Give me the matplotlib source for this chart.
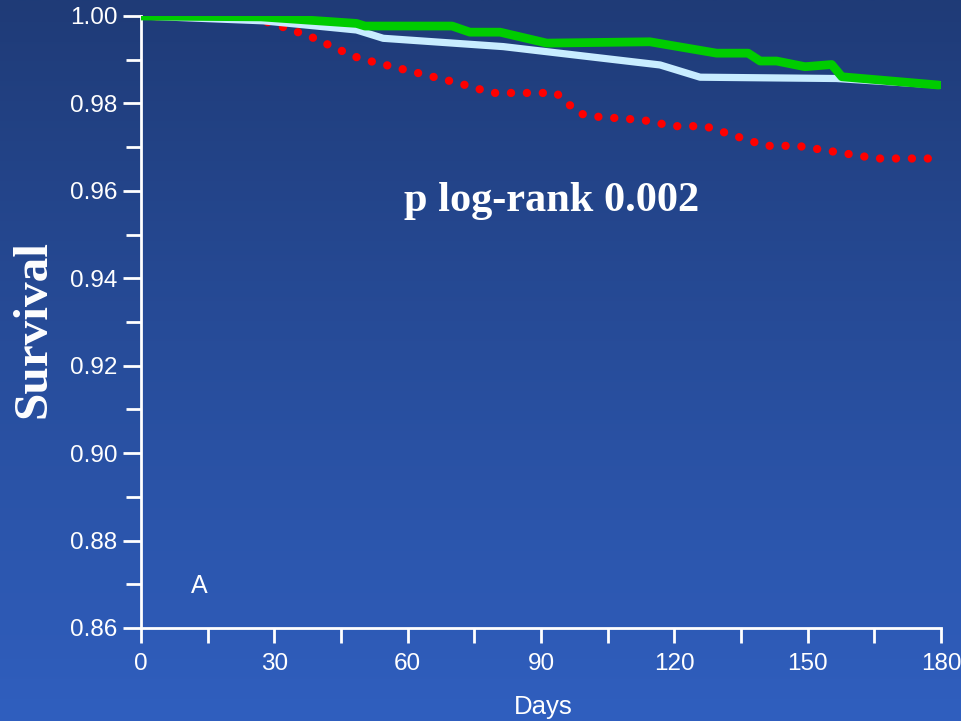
import matplotlib
matplotlib.use("Agg")
import matplotlib.pyplot as plt
from matplotlib.colors import LinearSegmentedColormap
import numpy as np

# survival curves (days, survival)
green_days = [0, 27, 48.5, 50.4, 70, 74, 80.8, 91.3, 114.5, 129.5, 136.6, 139.3,
              143, 149.4, 155.4, 157.7, 179.5]
green_surv = [1.0, 0.9998, 0.9983, 0.9977, 0.9977, 0.9963, 0.9963, 0.9938, 0.9941,
              0.9915, 0.9915, 0.9897, 0.9897, 0.9884, 0.9889, 0.9861, 0.9842]

light_days = [0, 27.5, 48.5, 54.5, 81.5, 116.8, 125.8, 156.5, 179.8]
light_surv = [1.0, 0.9989, 0.9968, 0.9949, 0.9930, 0.9888, 0.9860, 0.9857, 0.9842]

red_days = [0, 26, 31, 37.9, 47.8, 51.1, 72, 79, 93.4, 98.6, 102.2, 112.9, 119.8,
            126.9, 140.6, 147.7, 165.5, 180]
red_surv = [1.0, 0.9994, 0.9978, 0.9954, 0.9908, 0.9898, 0.9845, 0.9824, 0.9824,
            0.9777, 0.9770, 0.9762, 0.9748, 0.9748, 0.9703, 0.9703, 0.9674, 0.9674]

x_major = [0, 30, 60, 90, 120, 150, 180]
y_major = [0.86, 0.88, 0.90, 0.92, 0.94, 0.96, 0.98, 1.00]

fig = plt.figure(figsize=(9.62, 7.21), dpi=100)

# blue gradient backdrop
bg = fig.add_axes([0, 0, 1, 1], zorder=-10)
cmap = LinearSegmentedColormap.from_list("bg", ["#1f3b77", "#305fbf"])
bg.imshow(np.linspace(0, 1, 256).reshape(-1, 1), aspect="auto", cmap=cmap,
          extent=[0, 1, 0, 1])
bg.axis("off")

ax = fig.add_axes([141 / 962, 1 - 628 / 721, 800 / 962, 612 / 721])
ax.patch.set_visible(False)

ax.plot(red_days, red_surv, color="#ff0000", lw=6, linestyle=(0, (0.01, 1.9)),
        dash_capstyle="round", zorder=2)
ax.plot(light_days, light_surv, color="#c8ecff", lw=5.2, solid_capstyle="round", zorder=3)
ax.plot(green_days, green_surv, color="#00cc00", lw=6.3, solid_capstyle="round", zorder=4)

ax.set_xlim(0, 180)
ax.set_ylim(0.86, 1.00)
ax.set_xticks(x_major)
ax.set_xticks(np.arange(15, 180, 30), minor=True)
ax.set_yticks(y_major)
ax.set_yticks(np.arange(0.87, 1.0, 0.02), minor=True)
ax.set_yticklabels(["%.2f" % v for v in y_major])

for s in ["top", "right"]:
    ax.spines[s].set_visible(False)
for s in ["left", "bottom"]:
    ax.spines[s].set_color("white")
    ax.spines[s].set_linewidth(2)

ax.tick_params(axis="x", which="both", direction="out", length=11, width=2,
               color="white", labelcolor="white", labelsize=17.5, pad=7)
ax.tick_params(axis="y", which="major", direction="out", length=13, width=2,
               color="white", labelcolor="white", labelsize=17.5, pad=4)
ax.tick_params(axis="y", which="minor", direction="out", length=11, width=2,
               color="white")
for lab in ax.get_xticklabels() + ax.get_yticklabels():
    lab.set_fontfamily("Liberation Sans")

ax.text(13, 0.8697, "A", color="white", fontsize=18, family="Liberation Sans",
        ha="center", va="center")
ax.text(0.513, 0.697, "p log-rank 0.002", transform=ax.transAxes, color="white",
        fontsize=30.5, fontweight="bold", family="Liberation Serif",
        ha="center", va="center")

fig.text(543 / 962, 1 - 707 / 721, "Days", color="white", fontsize=18.5,
         family="Liberation Sans", ha="center", va="center")
fig.text(33 / 962, 1 - 329 / 721, "Survival", color="white", fontsize=35.5,
         fontweight="bold", family="Liberation Serif", rotation=90,
         ha="center", va="center")

fig.savefig("out.png", dpi=100)
